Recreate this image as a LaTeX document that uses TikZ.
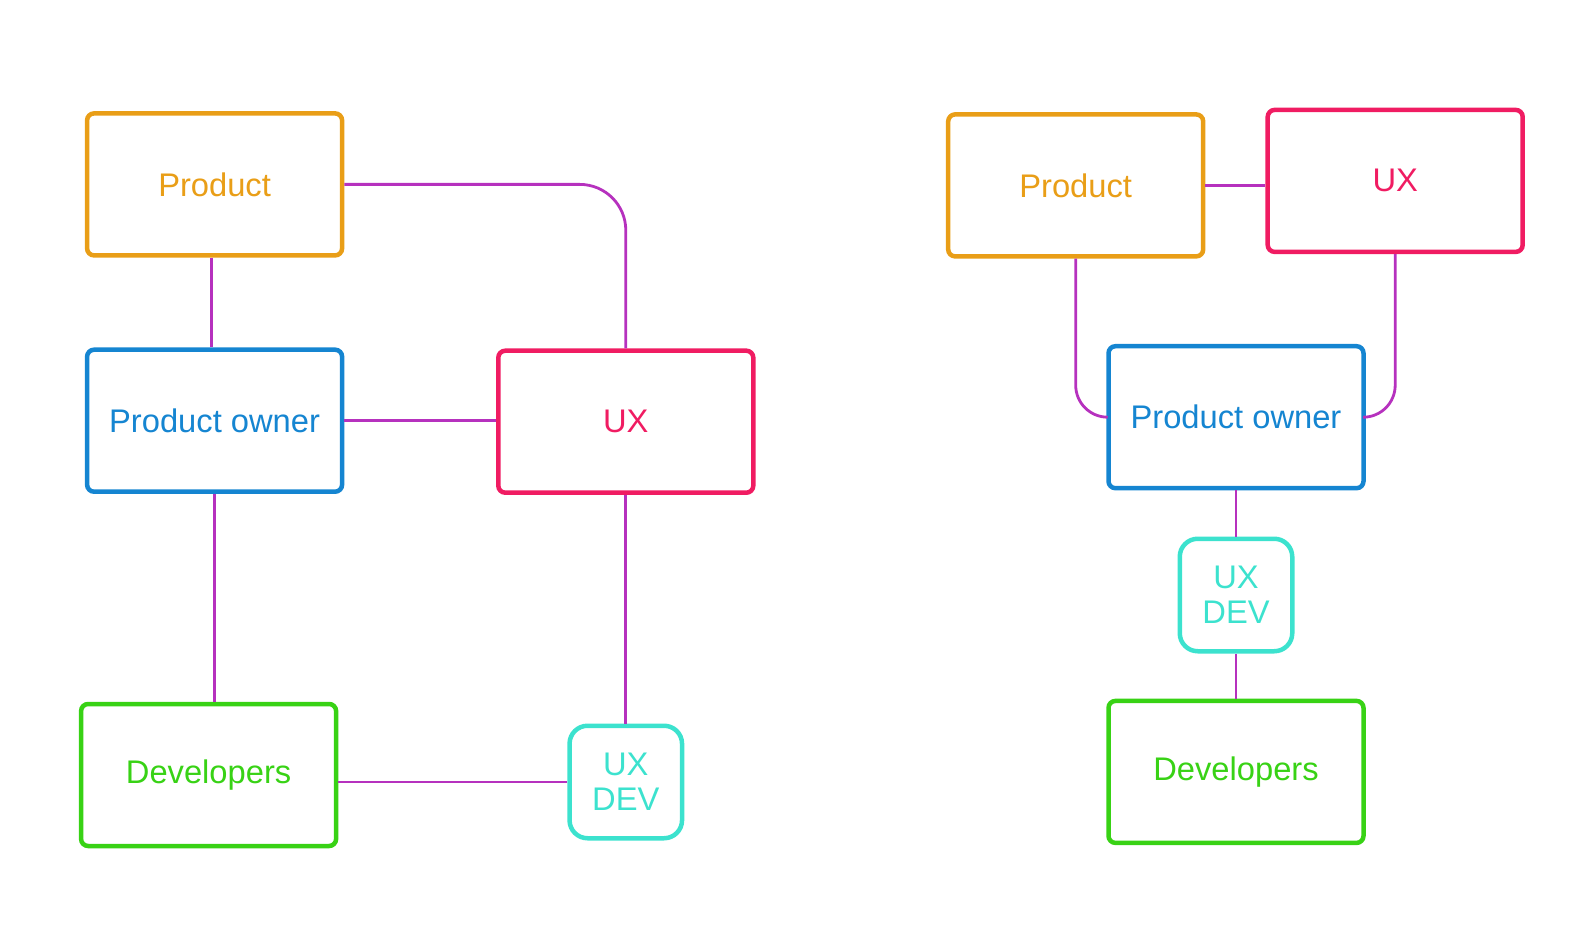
\documentclass[tikz,border=0pt]{standalone}
\usepackage{fontspec}
\setmainfont{Liberation Sans}
\definecolor{prodc}{HTML}{E99E17}
\definecolor{ownerc}{HTML}{1585D1}
\definecolor{uxc}{HTML}{F01C62}
\definecolor{devc}{HTML}{38D215}
\definecolor{uxdevc}{HTML}{3CE2CE}
\definecolor{linkc}{HTML}{B631BE}
\begin{document}
\begin{tikzpicture}[x=1pt,y=-1pt,
  box/.style={draw, line width=4.5pt, rounded corners=7pt,
    minimum width=255pt, minimum height=142pt, inner sep=0pt,
    align=center, font=\fontsize{32.7}{35.3}\selectfont},
  smallbox/.style={box, rounded corners=18pt,
    minimum width=112.5pt, minimum height=112.5pt},
  col/.style={draw=#1, text=#1},
  link/.style={draw=linkc, line width=2.8pt}]
\useasboundingbox (0,0) rectangle (1580,936);

% left arrangement
\node[box, col=prodc]  (pL)   at (214.6,184.4) {Product};
\node[box, col=ownerc] (poL)  at (214.6,420.7) {Product owner};
\node[box, col=uxc]    (uxL)  at (625.8,421.7) {UX};
\node[box, col=devc]   (devL) at (208.6,775.0) {Developers};
\node[smallbox, col=uxdevc] (udL) at (625.8,782.0) {UX\\DEV};

\draw[link, rounded corners=46pt] (pL.east) -| (uxL.north);
\draw[link] ([xshift=-3pt]pL.south) -- ([xshift=-3pt]poL.north);
\draw[link] (poL.east) -- (poL.east -| uxL.west);
\draw[link] (poL.south) -- (poL.south |- devL.north);
\draw[link] (uxL.south) -- (udL.north);
\draw[link] (udL.west) -- (udL.west -| devL.east);

% right arrangement
\node[box, col=prodc]  (pR)   at (1075.7,185.4) {Product};
\node[box, col=uxc]    (uxR)  at (1395.2,180.9) {UX};
\node[box, col=ownerc] (poR)  at (1236.0,417.2) {Product owner};
\node[smallbox, col=uxdevc] (udR) at (1236.0,595.0) {UX\\DEV};
\node[box, col=devc]   (devR) at (1236.0,771.9) {Developers};

\draw[link] (pR.east) -- (pR.east -| uxR.west);
\draw[link, rounded corners=32pt] (pR.south) |- (poR.west);
\draw[link, rounded corners=32pt] (uxR.south) |- (poR.east);
\draw[link] (poR.south) -- (udR.north);
\draw[link] (udR.south) -- (devR.north);
\end{tikzpicture}
\end{document}
